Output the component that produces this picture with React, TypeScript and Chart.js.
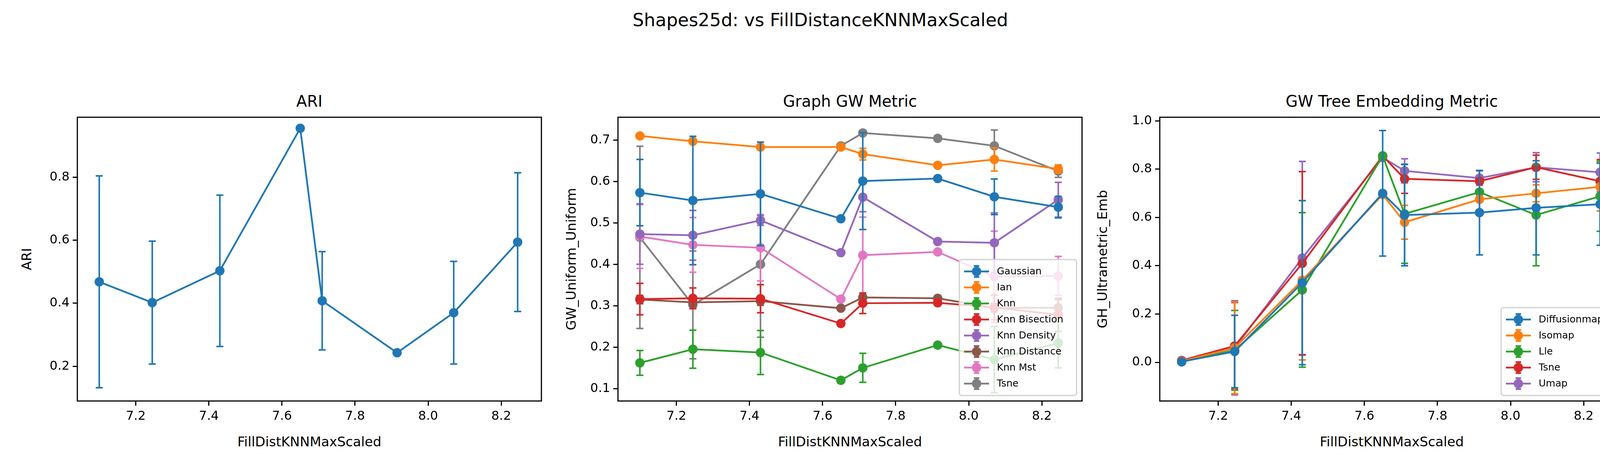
import React, { useRef, useEffect } from "react";
import { Chart, registerables } from "chart.js";

Chart.register(...registerables);

const FONT = "'DejaVu Sans', sans-serif";
const TAB = ["#1f77b4", "#ff7f0e", "#2ca02c", "#d62728", "#9467bd", "#8c564b", "#e377c2", "#7f7f7f"];

// x positions (FillDistKNNMaxScaled)
const xs = [7.1, 7.245, 7.43, 7.65, 7.71, 7.915, 8.07, 8.245];
const xTicks = [7.2, 7.4, 7.6, 7.8, 8.0, 8.2];

// ARI
const ariVals = [0.468, 0.402, 0.503, 0.955, 0.408, 0.243, 0.37, 0.594];
const ariErr = [0.336, 0.195, 0.24, 0, 0.156, 0, 0.163, 0.22];
const ariTicks = [0.2, 0.4, 0.6, 0.8];

// Graph GW Metric
const gwNames = ["Gaussian", "Ian", "Knn", "Knn Bisection", "Knn Density", "Knn Distance", "Knn Mst", "Tsne"];
const gwVals = [
  [0.573, 0.554, 0.57, 0.51, 0.601, 0.607, 0.563, 0.538],
  [0.71, 0.697, 0.683, 0.683, 0.666, 0.639, 0.653, 0.63],
  [0.162, 0.195, 0.187, 0.12, 0.15, 0.205, 0.17, 0.21],
  [0.316, 0.318, 0.317, 0.257, 0.306, 0.307, 0.296, 0.278],
  [0.473, 0.47, 0.506, 0.428, 0.562, 0.455, 0.452, 0.556],
  [0.315, 0.308, 0.311, 0.294, 0.32, 0.318, 0.295, 0.295],
  [0.467, 0.447, 0.44, 0.316, 0.422, 0.43, 0.37, 0.372],
  [0.465, 0.302, 0.4, 0.686, 0.717, 0.704, 0.686, 0.625],
];
const gwErr = [
  [0.08, 0.155, 0.125, 0, 0.117, 0, 0.043, 0.026],
  [0, 0, 0, 0, 0.014, 0, 0.028, 0.01],
  [0.03, 0.046, 0.053, 0, 0.035, 0, 0.08, 0.06],
  [0.038, 0.025, 0.034, 0, 0.025, 0, 0.03, 0.04],
  [0.073, 0.06, 0.012, 0, 0.035, 0, 0.072, 0.042],
  [0.01, 0.01, 0.01, 0, 0.01, 0, 0.01, 0.02],
  [0.077, 0.066, 0.08, 0, 0.092, 0, 0.11, 0.047],
  [0.22, 0.13, 0.176, 0, 0, 0, 0.038, 0.015],
];
const gwTicks = [0.1, 0.2, 0.3, 0.4, 0.5, 0.6, 0.7];

// GW Tree Embedding Metric
const treeNames = ["Diffusionmap", "Isomap", "Lle", "Tsne", "Umap"];
const treeVals = [
  [0.003, 0.045, 0.33, 0.7, 0.61, 0.62, 0.64, 0.655],
  [0.005, 0.06, 0.34, 0.695, 0.58, 0.675, 0.7, 0.727],
  [0.003, 0.05, 0.3, 0.855, 0.615, 0.705, 0.61, 0.688],
  [0.008, 0.068, 0.41, 0.855, 0.76, 0.75, 0.808, 0.75],
  [0.002, 0.06, 0.432, 0.848, 0.793, 0.763, 0.808, 0.787],
];
const treeErr = [
  [0.005, 0.15, 0.34, 0.26, 0.21, 0.175, 0.195, 0.17],
  [0, 0.19, 0.33, 0, 0.07, 0, 0.035, 0.1],
  [0, 0.165, 0.32, 0, 0.205, 0, 0.21, 0.145],
  [0, 0.18, 0.38, 0, 0.06, 0, 0.05, 0.09],
  [0, 0.195, 0.4, 0, 0.05, 0.03, 0.06, 0.08],
];
const treeTicks = [0.0, 0.2, 0.4, 0.6, 0.8, 1.0];

type PanelProps = {
  left: number; width: number; yAxisW: number; padRight: number; yTitleX: number;
  title: string; yLabel: string;
  names: string[]; vals: number[][]; errs: number[][];
  yMin: number; yMax: number; yTicks: number[]; legend: boolean;
};

const PLOT_TOP = 300;
const X_AXIS_H = 174;

const errorBars = {
  id: "errorBars",
  beforeDatasetDraw(chart: any, args: any) {
    const ds = chart.data.datasets[args.index];
    const y = chart.scales.y;
    const ctx = chart.ctx;
    ctx.save();
    ctx.strokeStyle = ds.borderColor;
    ctx.lineWidth = 4;
    args.meta.data.forEach((pt: any, i: number) => {
      const e = ds.errs[i];
      if (!e) return;
      const v = ds.data[i].y;
      const t = y.getPixelForValue(v + e), b = y.getPixelForValue(v - e);
      ctx.beginPath();
      ctx.moveTo(pt.x, t); ctx.lineTo(pt.x, b);
      ctx.moveTo(pt.x - 9, t); ctx.lineTo(pt.x + 9, t);
      ctx.moveTo(pt.x - 9, b); ctx.lineTo(pt.x + 9, b);
      ctx.stroke();
    });
    ctx.restore();
  },
  afterDraw(chart: any) {
    const { ctx, chartArea: a } = chart;
    ctx.save();
    ctx.strokeStyle = "#000";
    ctx.lineWidth = 3;
    ctx.strokeRect(a.left, a.top, a.right - a.left, a.bottom - a.top);
    if (chart.options.plugins.boxLegend?.show) {
      const ds = chart.data.datasets;
      const rowH = 41, boxW = 300, pad = 10;
      const h = ds.length * rowH + pad * 2;
      const x0 = a.right - boxW - 14, y0 = a.bottom - h - 14;
      ctx.fillStyle = "rgba(255,255,255,0.8)";
      ctx.strokeStyle = "#d0d0d0";
      ctx.lineWidth = 3;
      ctx.beginPath();
      ctx.roundRect(x0, y0, boxW, h, 6);
      ctx.fill(); ctx.stroke();
      ctx.font = `25px ${FONT}`;
      ctx.textBaseline = "middle";
      ds.forEach((d: any, i: number) => {
        const cy = y0 + pad + rowH * i + rowH / 2;
        ctx.strokeStyle = d.borderColor; ctx.fillStyle = d.borderColor;
        ctx.lineWidth = 4.5;
        ctx.beginPath(); ctx.moveTo(x0 + 12, cy); ctx.lineTo(x0 + 76, cy);
        ctx.moveTo(x0 + 44, cy - 14); ctx.lineTo(x0 + 44, cy + 14);
        ctx.moveTo(x0 + 37, cy - 14); ctx.lineTo(x0 + 51, cy - 14);
        ctx.moveTo(x0 + 37, cy + 14); ctx.lineTo(x0 + 51, cy + 14); ctx.stroke();
        ctx.beginPath(); ctx.arc(x0 + 44, cy, 12, 0, Math.PI * 2); ctx.fill();
        ctx.fillStyle = "#000";
        ctx.fillText(d.label, x0 + 96, cy + 1);
      });
    }
    ctx.restore();
  },
};

const Panel = (p: PanelProps) => {
  const ref = useRef<HTMLCanvasElement>(null);
  useEffect(() => {
    if (!ref.current) return;
    const datasets = p.names.map((n, k) => ({
      label: n,
      data: xs.map((x, i) => ({ x, y: p.vals[k][i] })),
      errs: p.errs[k],
      borderColor: TAB[k],
      backgroundColor: TAB[k],
      borderWidth: 4.5,
      pointRadius: 12,
      pointHoverRadius: 12,
      pointBorderWidth: 0,
    }));
    const tickFont = { family: FONT, size: 32 };
    const chart = new Chart(ref.current, {
      type: "line",
      data: { datasets } as any,
      plugins: [errorBars],
      options: {
        animation: false,
        responsive: false,
        layout: { padding: { top: PLOT_TOP, right: p.padRight, left: 0, bottom: 0 } },
        plugins: { legend: { display: false }, tooltip: { enabled: false }, boxLegend: { show: p.legend } } as any,
        scales: {
          x: {
            type: "linear", min: 7.04, max: 8.31,
            afterBuildTicks: (s: any) => { s.ticks = xTicks.map((v) => ({ value: v })); },
            afterFit: (s: any) => { s.height = X_AXIS_H; },
            ticks: { font: tickFont, color: "#000", callback: (v: any) => Number(v).toFixed(1), padding: 8, maxRotation: 0 },
            grid: { drawOnChartArea: false, drawTicks: true, tickLength: 12, color: "#000", lineWidth: 3 },
            border: { display: false },
          },
          y: {
            type: "linear", min: p.yMin, max: p.yMax,
            afterBuildTicks: (s: any) => { s.ticks = p.yTicks.map((v) => ({ value: v })); },
            afterFit: (s: any) => { s.width = p.yAxisW; },
            ticks: { font: tickFont, color: "#000", callback: (v: any) => Number(v).toFixed(1), padding: 8 },
            grid: { drawOnChartArea: false, drawTicks: true, tickLength: 12, color: "#000", lineWidth: 3 },
            border: { display: false },
          },
        },
      } as any,
    });
    return () => chart.destroy();
  }, []);
  const plotL = p.left + p.yAxisW, plotW = p.width - p.yAxisW - p.padRight;
  return (
    <>
      <div style={{ position: "absolute", left: plotL, width: plotW, top: 236, textAlign: "center", font: `40px ${FONT}` }}>
        {p.title}
      </div>
      <div style={{ position: "absolute", left: plotL, width: plotW, top: 1110, textAlign: "center", font: `34px ${FONT}` }}>
        FillDistKNNMaxScaled
      </div>
      <div style={{ position: "absolute", left: p.yTitleX - 400, width: 800, top: 663 - 20, textAlign: "center", font: `34px ${FONT}`, transform: "rotate(-90deg)", whiteSpace: "nowrap" }}>
        {p.yLabel}
      </div>
      <canvas ref={ref} width={p.width} height={1200} style={{ position: "absolute", left: p.left, top: 0 }} />
    </>
  );
};

export default function App() {
  return (
    <div style={{ position: "fixed", left: 0, top: 0, width: 4200, height: 1200, background: "#fff", overflow: "hidden" }}>
      <div style={{ position: "absolute", left: 0, width: 4200, top: 24, textAlign: "center", font: `46px ${FONT}` }}>
        Shapes25d: vs FillDistanceKNNMaxScaled
      </div>
      <Panel left={0} width={1480} yAxisW={198} padRight={94} yTitleX={68} title="ARI" yLabel="ARI"
        names={["ARI"]} vals={[ariVals]} errs={[ariErr]} yMin={0.09} yMax={0.99} yTicks={ariTicks} legend={false} />
      <Panel left={1440} width={1370} yAxisW={142} padRight={40} yTitleX={1462} title="Graph GW Metric" yLabel="GW_Uniform_Uniform"
        names={gwNames} vals={gwVals} errs={gwErr} yMin={0.07} yMax={0.755} yTicks={gwTicks} legend={true} />
      <Panel left={2840} width={1360} yAxisW={129} padRight={43} yTitleX={2822} title="GW Tree Embedding Metric" yLabel="GH_Ultrametric_Emb"
        names={treeNames} vals={treeVals} errs={treeErr} yMin={-0.16} yMax={1.015} yTicks={treeTicks} legend={true} />
    </div>
  );
}
